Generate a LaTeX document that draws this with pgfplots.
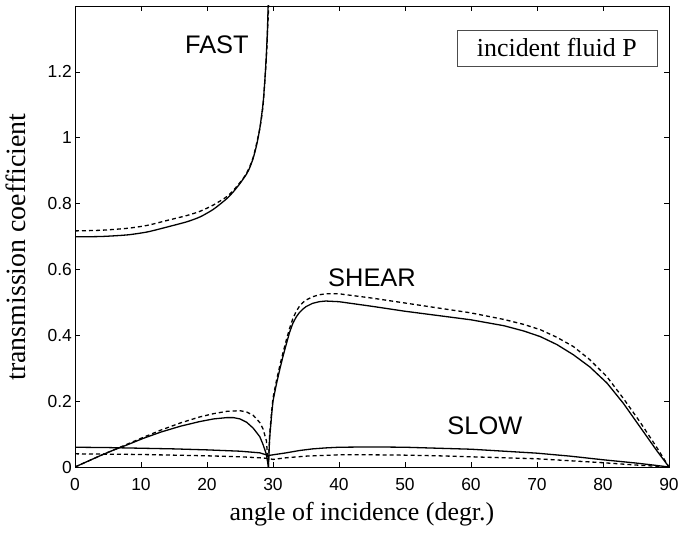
\documentclass[border=0pt]{standalone}
\usepackage{fontspec}
\setmainfont{Liberation Serif}
\setsansfont{Liberation Sans}
\usepackage{pgfplots}
\pgfplotsset{compat=1.18}

% transmission coefficients, fluid P wave incident
\pgfplotstableread{
x y
0 0.699
4 0.700
8 0.705
11 0.714
14 0.729
17 0.745
19 0.760
21 0.783
23 0.815
24 0.836
25 0.861
26 0.890
26.5 0.910
27 0.938
27.5 0.976
28 1.028
28.5 1.105
28.8 1.185
29 1.255
29.15 1.325
29.25 1.390
29.35 1.460
}\fastA
\pgfplotstableread{
x y
0 0.717
4 0.719
8 0.725
11 0.734
14 0.749
17 0.764
19 0.777
21 0.796
23 0.821
24 0.840
25 0.864
26 0.892
27 0.940
28 1.028
28.5 1.100
29 1.245
29.3 1.380
29.4 1.460
}\fastB
\pgfplotstableread{
x y
0 0
2 0.018
4 0.036
5.8 0.051
8 0.068
10.35 0.087
13 0.106
16 0.124
18.9 0.138
21 0.146
23 0.150
24 0.150
25 0.146
26 0.136
27 0.118
28 0.092
28.5 0.068
29 0.038
29.3 0
29.5 0.090
29.8 0.160
30 0.200
30.5 0.250
31 0.294
31.5 0.335
32 0.372
32.5 0.408
33 0.436
33.5 0.455
34 0.469
34.5 0.479
35 0.487
36 0.497
37 0.502
38 0.504
40 0.502
45 0.488
50 0.473
55 0.460
60 0.447
65 0.429
68 0.413
70.5 0.396
73 0.372
75.5 0.341
78 0.304
80.6 0.255
83.1 0.193
85.6 0.122
88.1 0.051
90 0
}\shearA
\pgfplotstableread{
x y
0 0
2 0.018
4 0.036
6 0.053
8 0.070
10.35 0.090
13 0.112
16 0.134
18.9 0.152
21 0.162
23 0.169
25 0.171
26 0.167
27 0.157
28 0.135
28.5 0.115
29 0.080
29.3 0
29.5 0.100
29.8 0.170
30 0.210
30.5 0.260
31 0.305
31.5 0.346
32 0.384
32.5 0.420
33 0.450
33.5 0.472
34 0.488
34.5 0.499
35 0.507
36 0.517
37 0.523
38 0.526
40 0.526
45 0.513
50 0.498
55 0.483
60 0.468
65 0.448
68 0.433
70.5 0.417
73 0.394
75.5 0.366
78 0.326
80.6 0.274
83.1 0.208
85.6 0.137
88.1 0.061
90 0
}\shearB
\pgfplotstableread{
x y
0 0.060
5 0.059
10 0.057
15 0.055
20 0.052
25 0.048
28 0.043
29.3 0.035
30 0.037
32 0.043
34 0.050
36 0.055
38 0.058
40 0.060
45 0.061
50 0.060
55 0.057
60 0.054
65 0.048
70 0.042
75 0.033
80 0.022
85 0.012
88 0.005
90 0
}\slowA
\pgfplotstableread{
x y
0 0.040
5 0.039
10 0.038
15 0.036
20 0.034
25 0.031
28 0.028
29.3 0.026
30 0.023
32 0.028
35 0.033
40 0.037
45 0.037
50 0.036
55 0.034
60 0.031
65 0.028
70 0.025
75 0.019
80 0.013
85 0.006
90 0
}\slowB

\begin{document}
\begin{tikzpicture}
\useasboundingbox (0,0) rectangle (678bp,534bp);
\begin{axis}[
  at={(75bp,67bp)}, anchor=south west,
  scale only axis, width=594bp, height=461bp,
  xmin=0, xmax=90, ymin=0, ymax=1.4,
  xtick={0,10,...,90},
  ytick={0,0.2,0.4,0.6,0.8,1,1.2},
  yticklabels={0,0.2,0.4,0.6,0.8,1,1.2},
  tick align=inside,
  major tick length=5bp,
  axis line style={line width=0.8bp},
  every tick/.style={line width=0.6bp, black},
  /pgf/number format/assume math mode=true,
  ticklabel style={font=\sffamily\fontsize{17.5}{20}\selectfont},
  xticklabel style={inner sep=0pt, yshift=-11bp},
  yticklabel style={inner sep=0pt, xshift=-3bp},
  xlabel={angle of incidence (degr.)},
  ylabel={transmission coefficient},
  xlabel style={font=\fontsize{26}{30}\selectfont,
    at={(axis description cs:0.483,-0.117)}, anchor=base},
  ylabel style={font=\fontsize{28}{32}\selectfont,
    at={(axis description cs:-0.084,0.477)}, anchor=base},
  clip=true,
]
\addplot[black, line width=1.3bp, smooth, tension=0.4] table {\fastA};
\addplot[black, line width=1.3bp, smooth, tension=0.4, dash pattern=on 4bp off 3bp] table {\fastB};
\addplot[black, line width=1.3bp] table {\shearA};
\addplot[black, line width=1.3bp, dash pattern=on 4bp off 3bp] table {\shearB};
\addplot[black, line width=1.3bp] table {\slowA};
\addplot[black, line width=1.3bp, dash pattern=on 4bp off 3bp] table {\slowB};

\node[font=\sffamily\fontsize{25.5}{28}\selectfont] at (axis cs:21.5,1.282) {FAST};
\node[font=\sffamily\fontsize{25.5}{28}\selectfont] at (axis cs:45.0,0.576) {SHEAR};
\node[font=\sffamily\fontsize{25.5}{28}\selectfont] at (axis cs:62.1,0.124) {SLOW};
\node[draw=black!70, line width=0.5bp, minimum width=200bp, minimum height=36bp,
  font=\fontsize{26}{30}\selectfont] at (axis cs:73.0,1.273) {incident fluid P};
\end{axis}
\end{tikzpicture}
\end{document}
